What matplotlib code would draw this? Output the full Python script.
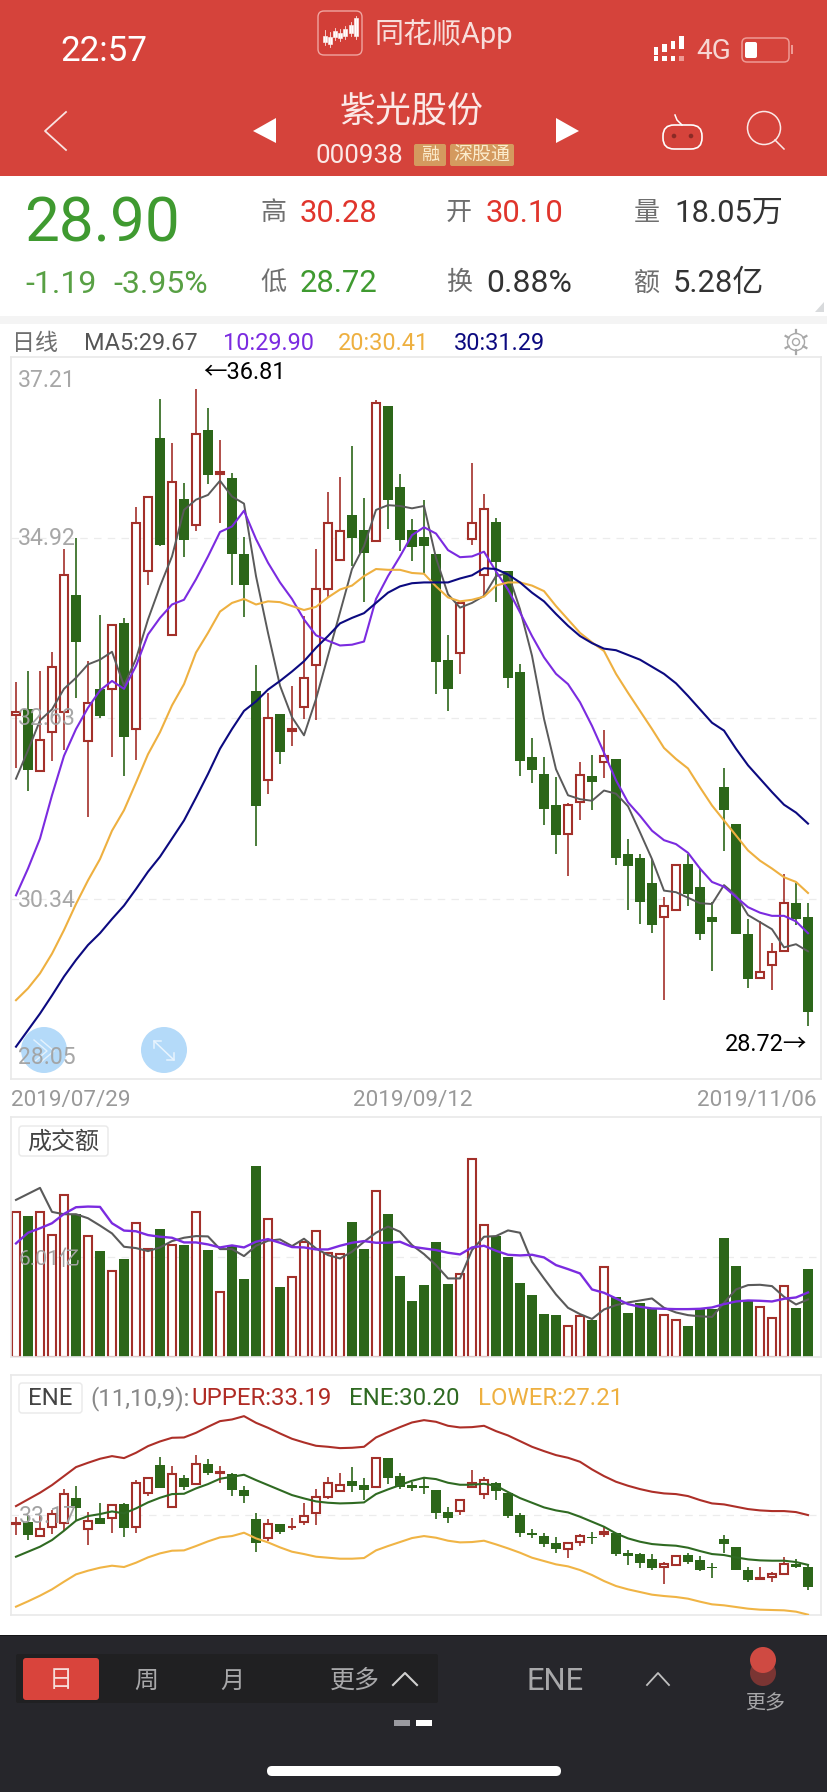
import numpy as np
import matplotlib
matplotlib.use("Agg")
import matplotlib.pyplot as plt
from matplotlib.patches import Rectangle, FancyBboxPatch, Circle, Ellipse, Polygon

plt.rcParams['font.family'] = ['Roboto', 'Noto Sans CJK SC', 'DejaVu Sans']

# daily candles
opens = [32.67, 32.75, 31.96, 32.45, 32.70, 34.19, 32.34, 33.00, 33.00, 33.84, 32.49, 34.50, 36.18, 33.68, 35.41, 35.08, 36.28,
         35.73, 35.68, 34.71, 32.97, 31.84, 32.68, 32.47, 32.77, 33.30, 34.27, 34.64, 35.21, 35.02, 34.87, 36.59, 35.56, 35.02,
         34.93, 34.71, 33.36, 33.45, 34.90, 34.44, 35.12, 34.49, 33.21, 32.13, 31.92, 31.52, 31.16, 31.56, 31.89, 32.07, 32.11,
         30.91, 30.86, 30.54, 30.10, 30.20, 30.78, 30.49, 30.10, 31.76, 31.29, 29.89, 29.33, 29.50, 29.67, 30.28, 30.10]
highs = [33.09, 33.22, 33.22, 33.47, 34.78, 34.92, 33.35, 33.94, 33.81, 33.90, 35.31, 35.44, 36.68, 36.12, 35.61, 36.81, 36.56,
         36.16, 35.74, 34.93, 33.30, 32.95, 32.68, 33.03, 33.92, 34.78, 35.50, 35.69, 36.08, 35.42, 36.66, 36.59, 35.73, 35.15,
         35.40, 34.71, 33.68, 34.09, 35.87, 35.47, 35.17, 34.49, 33.32, 32.38, 32.14, 31.88, 31.55, 32.07, 32.16, 32.48, 32.11,
         31.10, 30.90, 30.84, 30.36, 30.77, 30.90, 30.72, 30.29, 32.00, 31.29, 30.08, 30.05, 29.77, 30.65, 30.54, 30.28]
lows = [32.00, 31.71, 31.95, 32.08, 32.23, 32.88, 31.37, 32.63, 32.14, 31.89, 32.10, 34.32, 34.81, 33.68, 34.67, 35.00, 35.60,
        35.11, 34.32, 33.91, 31.00, 31.66, 32.05, 32.27, 32.62, 32.61, 34.16, 34.62, 34.56, 34.10, 34.87, 35.03, 34.75, 34.62,
        34.47, 32.94, 32.72, 33.19, 34.82, 34.18, 34.10, 33.01, 31.90, 31.81, 31.27, 30.91, 30.63, 31.33, 31.46, 31.87, 30.76,
        30.20, 30.02, 29.90, 29.05, 30.20, 30.25, 29.81, 29.42, 30.94, 29.89, 29.20, 29.33, 29.18, 29.67, 30.00, 28.72]
closes = [32.70, 31.97, 32.35, 33.28, 34.44, 33.60, 32.82, 32.66, 33.81, 32.39, 35.11, 35.44, 34.82, 35.63, 34.89, 36.23, 35.71,
          35.75, 34.71, 34.32, 31.51, 32.63, 32.20, 32.49, 33.14, 34.27, 35.10, 35.00, 34.91, 34.72, 36.63, 35.39, 34.89, 34.80,
          34.81, 33.34, 33.00, 34.09, 35.10, 35.28, 34.61, 33.14, 32.09, 31.97, 31.47, 31.14, 31.52, 31.91, 31.82, 32.15, 30.86,
          30.75, 30.29, 30.01, 30.24, 30.76, 30.40, 29.89, 30.04, 31.46, 29.89, 29.32, 29.41, 29.66, 30.28, 30.08, 28.90]

# moving averages
ma5 = [31.86, 32.22, 32.60, 32.74, 33.00, 33.14, 33.31, 33.37, 33.47, 33.04, 33.38, 33.88, 34.30, 34.68, 35.27, 35.40, 35.46,
       35.64, 35.44, 35.35, 34.43, 33.71, 33.04, 32.64, 32.41, 32.87, 33.42, 33.97, 34.52, 34.81, 35.27, 35.33, 35.32, 35.29,
       35.32, 34.66, 34.20, 34.03, 34.09, 34.18, 34.43, 34.47, 34.01, 33.42, 32.62, 31.98, 31.65, 31.60, 31.58, 31.71, 31.67,
       31.51, 31.18, 30.84, 30.44, 30.42, 30.35, 30.28, 30.27, 30.51, 30.38, 30.13, 30.04, 29.95, 29.72, 29.76, 29.67]
ma10 = [30.38, 30.72, 31.10, 31.65, 32.15, 32.49, 32.76, 32.98, 33.10, 33.00, 33.29, 33.69, 33.90, 34.07, 34.13, 34.39, 34.68,
        34.99, 35.06, 35.26, 34.90, 34.60, 34.35, 34.14, 33.88, 33.68, 33.61, 33.55, 33.56, 33.60, 34.14, 34.43, 34.68, 34.95,
        35.05, 34.97, 34.76, 34.67, 34.68, 34.74, 34.49, 34.26, 33.97, 33.67, 33.40, 33.19, 33.06, 32.83, 32.53, 32.19, 31.84,
        31.56, 31.39, 31.20, 31.08, 31.03, 30.92, 30.72, 30.55, 30.49, 30.36, 30.23, 30.16, 30.12, 30.12, 30.05, 29.90]
ma20 = [29.05, 29.20, 29.39, 29.64, 29.94, 30.27, 30.57, 30.84, 31.20, 31.46, 31.81, 32.17, 32.45, 32.79, 33.06, 33.46, 33.71,
        33.98, 34.09, 34.14, 34.07, 34.11, 34.10, 34.05, 34.00, 34.04, 34.16, 34.26, 34.31, 34.43, 34.52, 34.51, 34.51, 34.47,
        34.46, 34.30, 34.16, 34.11, 34.13, 34.17, 34.31, 34.35, 34.35, 34.31, 34.24, 34.05, 33.88, 33.71, 33.59, 33.48, 33.19,
        32.95, 32.72, 32.49, 32.25, 32.11, 31.99, 31.75, 31.52, 31.33, 31.14, 30.95, 30.82, 30.72, 30.61, 30.55, 30.41]
ma30 = [28.46, 28.67, 28.88, 29.11, 29.35, 29.56, 29.75, 29.90, 30.08, 30.25, 30.46, 30.68, 30.87, 31.10, 31.33, 31.62, 31.92,
        32.24, 32.49, 32.72, 32.84, 32.99, 33.10, 33.22, 33.35, 33.52, 33.67, 33.83, 33.90, 33.96, 34.09, 34.22, 34.30, 34.34,
        34.35, 34.35, 34.35, 34.40, 34.44, 34.53, 34.52, 34.45, 34.35, 34.22, 34.11, 33.95, 33.80, 33.67, 33.58, 33.51, 33.49,
        33.43, 33.37, 33.28, 33.19, 33.07, 32.91, 32.74, 32.57, 32.47, 32.24, 32.03, 31.86, 31.69, 31.53, 31.43, 31.29]

# turnover, in 亿
amount = [8.72, 8.46, 8.72, 7.33, 9.74, 8.56, 7.27, 6.35, 5.17, 5.87, 8.06, 6.47, 7.68, 6.73, 6.71, 8.72, 6.41,
          3.91, 6.65, 4.67, 11.46, 8.26, 4.19, 4.81, 6.89, 7.58, 6.25, 6.19, 8.10, 6.47, 9.98, 8.58, 4.85, 3.35,
          4.31, 6.89, 4.37, 4.99, 11.90, 7.94, 7.25, 5.99, 4.43, 3.71, 2.57, 2.51, 1.86, 2.46, 2.20, 5.41, 3.59,
          2.63, 3.23, 2.87, 2.53, 2.23, 1.84, 2.93, 2.87, 7.13, 5.45, 3.39, 3.01, 2.34, 4.27, 2.93, 5.28]
amount_ma5 = [9.42, 9.78, 10.14, 8.70, 8.56, 8.56, 8.32, 7.88, 7.41, 6.61, 6.53, 6.35, 6.57, 6.95, 7.15, 7.25, 7.23,
              6.47, 6.47, 6.05, 6.67, 6.97, 7.05, 6.65, 7.09, 6.51, 6.11, 5.91, 6.31, 6.91, 7.45, 7.82, 7.51, 6.71,
              6.17, 5.51, 4.71, 4.71, 6.41, 7.21, 7.25, 7.59, 7.45, 5.71, 4.71, 3.75, 2.95, 2.57, 2.28, 2.85, 3.11,
              3.27, 3.39, 3.51, 2.95, 2.67, 2.51, 2.44, 2.40, 3.25, 4.05, 4.31, 4.33, 4.25, 3.61, 3.15, 3.45]
amount_ma10 = [6.81, 7.45, 7.72, 8.02, 8.58, 8.98, 9.02, 9.00, 8.02, 7.58, 7.54, 7.31, 7.21, 7.15, 6.87, 6.87, 6.75,
               6.57, 6.69, 6.57, 6.91, 7.07, 6.85, 6.59, 6.57, 6.45, 6.45, 6.67, 6.85, 6.95, 6.85, 6.85, 6.91, 6.61,
               6.51, 6.41, 6.25, 6.15, 6.57, 6.67, 6.37, 6.13, 6.09, 6.13, 5.97, 5.51, 5.27, 5.01, 4.05, 3.85, 3.51,
               3.17, 3.01, 2.91, 2.89, 2.87, 2.87, 2.89, 2.97, 3.17, 3.33, 3.39, 3.37, 3.33, 3.49, 3.57, 3.87]

# ENE bands
upper = [33.73, 34.13, 34.53, 34.99, 35.53, 36.07, 36.33, 36.57, 36.73, 36.61, 36.93, 37.33, 37.61, 37.83, 37.85, 38.13, 38.49,
         38.83, 38.93, 39.13, 38.73, 38.43, 38.09, 37.77, 37.55, 37.35, 37.29, 37.21, 37.23, 37.29, 37.85, 38.17, 38.47, 38.75,
         38.89, 38.79, 38.55, 38.45, 38.47, 38.55, 38.23, 37.97, 37.63, 37.29, 37.03, 36.79, 36.63, 36.39, 35.93, 35.53, 35.19,
         34.95, 34.75, 34.59, 34.49, 34.45, 34.33, 34.09, 33.89, 33.83, 33.69, 33.55, 33.47, 33.43, 33.43, 33.37, 33.19]
ene = [30.69, 30.99, 31.29, 31.69, 32.25, 32.85, 33.13, 33.25, 33.41, 33.29, 33.59, 33.95, 34.23, 34.45, 34.47, 34.79, 35.05,
       35.37, 35.49, 35.61, 35.29, 34.99, 34.69, 34.39, 34.19, 34.01, 33.93, 33.89, 33.91, 33.95, 34.45, 34.73, 34.99, 35.25,
       35.43, 35.35, 35.13, 35.01, 35.01, 35.07, 34.95, 34.57, 34.21, 33.93, 33.65, 33.47, 33.35, 33.09, 32.79, 32.49, 32.09,
       31.79, 31.59, 31.45, 31.39, 31.35, 31.23, 31.03, 30.85, 30.79, 30.65, 30.53, 30.47, 30.45, 30.45, 30.37, 30.20]
lower = [27.69, 28.01, 28.35, 28.73, 29.19, 29.63, 29.85, 30.03, 30.15, 30.07, 30.33, 30.65, 30.89, 31.05, 31.07, 31.33, 31.61,
         31.85, 31.93, 32.13, 31.79, 31.55, 31.25, 30.99, 30.85, 30.69, 30.63, 30.57, 30.57, 30.61, 31.07, 31.33, 31.57, 31.81,
         31.93, 31.83, 31.65, 31.55, 31.57, 31.65, 31.43, 31.19, 30.93, 30.63, 30.43, 30.23, 30.11, 29.89, 29.59, 29.23, 28.93,
         28.73, 28.57, 28.41, 28.33, 28.27, 28.17, 27.99, 27.83, 27.77, 27.67, 27.57, 27.51, 27.49, 27.47, 27.39, 27.21]

price_ticks = [37.21, 34.92, 32.63, 30.34, 28.05]
amount_tick = 6.01
ene_tick = 33.17
date_labels = ["2019/07/29", "2019/09/12", "2019/11/06"]

RED = "#a3302a"
GREEN = "#2c6619"
GRAY = "#5a5a5a"
PURPLE = "#7b2be0"
ORANGE = "#eeb040"
NAVY = "#0c0a80"
BORDER = "#e9e9e9"
TICK = "#a2a2a2"

W, H = 828, 1792
fig = plt.figure(figsize=(W / 100, H / 100), dpi=100, facecolor="white")


def panel(left, top, right, bottom, ymin, ymax):
    ax = fig.add_axes([left / W, 1 - bottom / H, (right - left) / W, (bottom - top) / H], zorder=1)
    ax.set_xlim((left - 16) / 12, (right - 16) / 12)
    ax.set_ylim(ymin, ymax)
    ax.set_xticks([])
    ax.set_yticks([])
    for s in ax.spines.values():
        s.set_color(BORDER)
        s.set_linewidth(1.2)
    return ax


def candles(ax):
    x = np.arange(len(opens))
    up = np.array(closes) >= np.array(opens)
    ax.vlines(x[up], np.array(lows)[up], np.array(highs)[up], color=RED, lw=1.2, zorder=2)
    ax.vlines(x[~up], np.array(lows)[~up], np.array(highs)[~up], color=GREEN, lw=1.2, zorder=2)
    body_bot = np.minimum(opens, closes)
    body_h = np.abs(np.array(closes) - np.array(opens))
    ax.bar(x[up], body_h[up], bottom=body_bot[up], width=0.63, facecolor="white", edgecolor=RED, linewidth=1.5, zorder=3)
    ax.bar(x[~up], body_h[~up], bottom=body_bot[~up], width=0.83, color=GREEN, linewidth=0, zorder=3)
    return x, up


def gridline(ax, y):
    ax.axhline(y, color="#ececec", lw=0.9, ls=(0, (6, 5)), zorder=1)


# main chart
ax1 = panel(11, 357, 821, 1079, price_ticks[-1], price_ticks[0])
for p in price_ticks[1:-1]:
    gridline(ax1, p)
x, up = candles(ax1)
ax1.plot(x, ma5, color=GRAY, lw=1.4, zorder=4)
ax1.plot(x, ma10, color=PURPLE, lw=1.5, zorder=4)
ax1.plot(x, ma20, color=ORANGE, lw=1.5, zorder=4)
ax1.plot(x, ma30, color=NAVY, lw=1.5, zorder=4)

# turnover chart
ax2 = panel(11, 1117, 821, 1357, 0, 14.39)
gridline(ax2, amount_tick)
amt = np.array(amount)
ax2.bar(x[~up], amt[~up], width=0.83, color=GREEN, linewidth=0, zorder=2)
ax2.bar(x[up], amt[up], width=0.63, facecolor="white", edgecolor=RED, linewidth=1.5, zorder=2)
ax2.plot(x, amount_ma5, color=GRAY, lw=1.5, zorder=4)
ax2.plot(x, amount_ma10, color=PURPLE, lw=1.7, zorder=4)

# ENE chart
ax3 = panel(11, 1375, 821, 1615, 27.19, 41.6)
gridline(ax3, ene_tick)
candles(ax3)
ax3.plot(x, upper, color="#ad2f28", lw=1.5, zorder=4)
ax3.plot(x, ene, color="#2f6a22", lw=1.5, zorder=4)
ax3.plot(x, lower, color="#f0b445", lw=1.5, zorder=4)

# phone / app chrome, in pixel coordinates
ui = fig.add_axes([0, 0, 1, 1], zorder=5)
ui.set_xlim(0, W)
ui.set_ylim(H, 0)
ui.axis("off")
ui.patch.set_alpha(0)


def txt(x, y, s, px, color, ha="left", **kw):
    # va=center sits a little high with these fonts
    return ui.text(x, y + px * 0.08, s, fontsize=px * 0.72, color=color, ha=ha, va="center", **kw)


def rrect(x0, y0, x1, y1, r, **kw):
    p = FancyBboxPatch((x0 + r, y0 + r), x1 - x0 - 2 * r, y1 - y0 - 2 * r, boxstyle=f"round,pad={r}", **kw)
    ui.add_patch(p)


HEAD = "#d5433b"
ui.add_patch(Rectangle((0, 0), W, 176, color=HEAD, lw=0))
ui.add_patch(Rectangle((0, 316), W, 8, color="#f4f4f4", lw=0))
ui.add_patch(Polygon([(824, 302), (824, 312), (815, 312)], color="#d8dadc", lw=0))

# status bar
txt(60, 49, "22:57", 35, "white")
rrect(318, 11, 362, 55, 6, facecolor="#d23e37", edgecolor="#f0a5a0", lw=1)
for cx, y0, y1, hl in [(325, 36, 42, 30), (330, 37, 44, 32), (335, 31, 37, 28), (340, 33, 38, 29), (345, 29, 36, 26),
                       (351, 25, 33, 22), (356, 18, 36, 16)]:
    ui.plot([cx, cx], [hl, y1 + 3], color="#fbe4e2", lw=0.6)
    ui.add_patch(Rectangle((cx - 2, y0), 4, y1 - y0, facecolor="white", edgecolor="white", lw=0.4))
txt(374, 32, "同花顺App", 29, "#f8dedb")
for i, top in enumerate([47, 44, 41, 36]):
    xx = 656 + i * 8.5
    ui.add_patch(Rectangle((xx - 2.3, top), 4.6, 8 if i < 3 else 13, color="white", lw=0))
    ui.add_patch(Rectangle((xx - 2.3, 56), 4.6, 5, color="white" if i < 3 else "#ee9a94", lw=0))
txt(696, 49, "4G", 28, "#f6d6d3")
rrect(742, 38, 789, 62, 5, facecolor="none", edgecolor="#ee9a94", lw=1.1)
rrect(745, 42, 757, 58, 2, facecolor="white", edgecolor="none")
ui.add_patch(Rectangle((791, 45), 2.5, 9, color="#ee9a94", lw=0))

# title row
ui.plot([66, 45, 66], [112, 131, 150], color="#f9e3e1", lw=1.3)
ui.add_patch(Polygon([(276, 118), (253, 131), (276, 143)], color="white", lw=0))
ui.add_patch(Polygon([(556, 118), (579, 131), (556, 143)], color="white", lw=0))
txt(412, 109, "紫光股份", 36, "#fbe9e7", ha="center")
txt(316, 154, "000938", 26, "#fbe9e7")
rrect(414, 144, 446, 166, 2, facecolor="#d49a5f", edgecolor="none")
rrect(450, 144, 514, 166, 2, facecolor="#d49a5f", edgecolor="none")
txt(430, 154, "融", 18, "#fbeccd", ha="center")
txt(482, 154, "深股通", 19, "#fbeccd", ha="center")
rrect(663, 125, 702, 149, 11, facecolor="none", edgecolor="white", lw=1.2)
ui.plot([675, 677, 682], [115, 120, 125], color="white", lw=1.1)
ui.add_patch(Circle((674, 136), 2.3, color="#8a2a25", lw=0))
ui.add_patch(Circle((691, 136), 2.3, color="#8a2a25", lw=0))
ui.add_patch(Circle((764, 128), 16.5, facecolor="none", edgecolor="#fbe9e7", lw=1.1))
ui.plot([775, 784], [140, 149], color="#fbe9e7", lw=1.1)

# quote block
txt(24, 220, "28.90", 62, "#3f9a30")
txt(25, 282, "-1.19", 32, "#58a044")
txt(113, 282, "-3.95%", 32, "#58a044")
LABEL = "#6f6f6f"
txt(260, 211, "高", 26, LABEL)
txt(300, 211, "30.28", 31, "#e0352c")
txt(446, 211, "开", 26, LABEL)
txt(486, 211, "30.10", 31, "#e0352c")
txt(634, 211, "量", 26, LABEL)
txt(674, 211, "18.05万", 31, "#333333")
txt(260, 281, "低", 26, LABEL)
txt(300, 281, "28.72", 31, "#3f9a30")
txt(446, 281, "换", 26, LABEL)
txt(486, 281, "0.88%", 32, "#333333")
txt(634, 281, "额", 26, LABEL)
txt(673, 281, "5.28亿", 31, "#333333")

# legend row
txt(12, 342, "日线", 23, "#6f6f6f")
txt(84, 342, "MA5:29.67", 23.5, "#555555")
txt(223, 342, "10:29.90", 23.5, PURPLE)
txt(338, 342, "20:30.41", 23.5, ORANGE)
txt(454, 342, "30:31.29", 23.5, NAVY)
ui.add_patch(Circle((796, 342), 8.5, facecolor="none", edgecolor="#a8a8a8", lw=1))
ui.add_patch(Circle((796, 342), 3.5, facecolor="none", edgecolor="#a8a8a8", lw=1))
for a in np.arange(6) * np.pi / 3 + np.pi / 6:
    ui.plot([796 + 8.5 * np.cos(a), 796 + 12 * np.cos(a)], [342 + 8.5 * np.sin(a), 342 + 12 * np.sin(a)],
            color="#a8a8a8", lw=1.6)

# blue buttons under the labels
ui.add_patch(Circle((44, 1050), 23, color="#b4daf9", lw=0))
ui.add_patch(Circle((164, 1050), 23, color="#b4daf9", lw=0))
ui.plot([34, 47, 34], [1040, 1051, 1062], color="#e4f2fd", lw=1)
ui.plot([41, 54, 41], [1040, 1051, 1062], color="#e4f2fd", lw=1)
ui.plot([154, 174], [1041, 1060], color="#e8f4fe", lw=1.1)
ui.plot([154, 154, 161], [1048, 1041, 1041], color="#e8f4fe", lw=1.1)
ui.plot([174, 174, 167], [1053, 1060, 1060], color="#e8f4fe", lw=1.1)

# price labels
for label, y in zip(price_ticks, [379, 537, 717, 899, 1056]):
    txt(18, y, f"{label:.2f}", 23, TICK, alpha=0.95)
txt(203, 371, "←36.81", 23.5, "black")
txt(807, 1043, "28.72→", 23.5, "black", ha="right")

txt(11, 1099, date_labels[0], 22.5, "#999999")
txt(413, 1099, date_labels[1], 22.5, "#999999", ha="center")
txt(817, 1099, date_labels[2], 22.5, "#999999", ha="right")

# turnover labels
rrect(19, 1126, 108, 1156, 3, facecolor="white", edgecolor="#e9e9e9", lw=1)
txt(63, 1140, "成交额", 24, "#444444", ha="center")
txt(19, 1257, f"{amount_tick:.2f}亿", 21, TICK)

# ENE labels
rrect(19, 1383, 82, 1413, 3, facecolor="white", edgecolor="#e9e9e9", lw=1)
txt(50, 1397, "ENE", 24, "#444444", ha="center")
txt(90, 1397, "(11,10,9):", 24, "#888888")
txt(191, 1397, "UPPER:33.19", 24, "#b02c25")
txt(349, 1397, "ENE:30.20", 24, "#2f6a22")
txt(478, 1397, "LOWER:27.21", 24, ORANGE)
txt(19, 1515, f"{ene_tick:.2f}", 23, TICK)

# bottom nav
ui.add_patch(Rectangle((0, 1636), W, H - 1636, color="#26262b", lw=0))
ui.add_patch(Rectangle((0, 1635), W, 1.5, color="#151517", lw=0))
rrect(16, 1654, 438, 1703, 2, facecolor="#202022", edgecolor="none")
rrect(23, 1658, 99, 1700, 3, facecolor="#d9443c", edgecolor="none")
NAV = "#a8a8aa"
txt(61, 1679, "日", 24, "#f6dcd9", ha="center")
txt(146, 1679, "周", 24, NAV, ha="center")
txt(232, 1679, "月", 24, NAV, ha="center")
txt(355, 1679, "更多", 25, NAV, ha="center")
ui.plot([393, 405, 417], [1685, 1673, 1685], color="#d0d0d0", lw=1.5)
txt(555, 1679, "ENE", 31, NAV, ha="center")
ui.plot([647, 658, 669], [1685, 1673, 1685], color="#c0c0c0", lw=1.3)
ui.add_patch(Ellipse((763, 1673), 26, 26, color="#7a3533", lw=0))
ui.add_patch(Ellipse((763, 1660), 26, 26, color="#cf4a42", lw=0))
txt(765, 1702, "更多", 20, NAV, ha="center")
ui.add_patch(Rectangle((394, 1720), 16, 6, color="#9a9aa0", lw=0))
ui.add_patch(Rectangle((416, 1720), 16, 6, color="white", lw=0))
rrect(267, 1766, 561, 1776, 5, facecolor="white", edgecolor="none")

fig.savefig("out.png", dpi=100)
